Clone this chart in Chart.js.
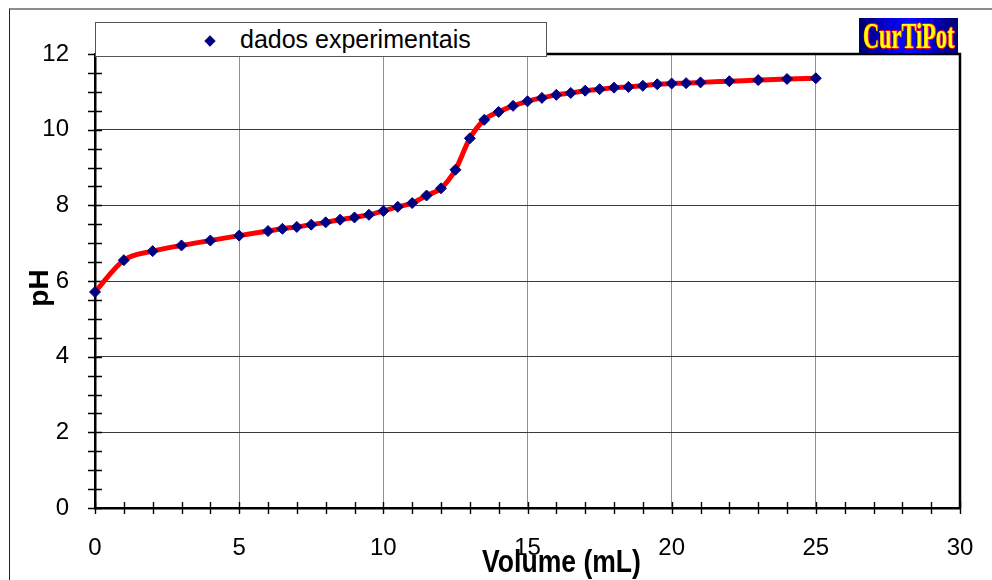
<!DOCTYPE html>
<html>
<head>
<meta charset="utf-8">
<title>Curva de titulação</title>
<script src="https://cdn.jsdelivr.net/npm/chart.js@4.4.0/dist/chart.umd.min.js"></script>
<style>
  body { margin: 0; background: #fff; }
  #wrap { position: relative; width: 992px; height: 580px; overflow: hidden; }
  #frame {
    position: absolute; left: 9px; top: 8px; right: -2px; bottom: -2px;
    border-top: 2px solid #8c8c8c; border-left: 1px solid #222;
  }
  canvas { position: absolute; left: 0; top: 0; }
  #legend {
    position: absolute; left: 95px; top: 22px; width: 452px; height: 35px;
    box-sizing: border-box; background: #fff; border: 1px solid #555;
    font-family: Arial, "Liberation Sans", sans-serif;
  }
  #legend .mk {
    position: absolute; left: 110px; top: 14px; width: 8px; height: 8px;
    background: #000080; transform: rotate(45deg);
  }
  #legend .txt {
    position: absolute; left: 144px; top: 0; line-height: 33px; font-size: 25px; color: #000;
  }
  #logo {
    position: absolute; left: 859px; top: 18px; width: 99px; height: 35px;
    background: linear-gradient(to right, #00006a 0%, #0000d8 30%, #0a0aff 50%, #0000d8 70%, #00006a 100%);
    overflow: hidden; text-align: center;
  }
  #logo span {
    display: inline-block; font: bold 36px "Liberation Serif", "Times New Roman", serif;
    line-height: 36px; color: #ffff00; transform: scaleX(0.62); transform-origin: center;
    margin-left: -50px; margin-right: -50px;
    text-shadow: 1px 0 #e01000, -1px 0 #e01000, 0 1px #e01000, 0 -1px #e01000;
  }
</style>
</head>
<body>
<div id="wrap">
  <div id="frame"></div>
  <canvas id="chart" width="992" height="580"></canvas>
  <div id="legend"><div class="mk"></div><span class="txt">dados experimentais</span></div>
  <div id="logo"><span>CurTiPot</span></div>
</div>
<script>
// Titration data
const volume = [0, 1, 2, 3, 4, 5, 6, 6.5, 7, 7.5, 8, 8.5, 9, 9.5, 10, 10.5, 11, 11.5, 12, 12.5,
                13, 13.5, 14, 14.5, 15, 15.5, 16, 16.5, 17, 17.5, 18, 18.5, 19, 19.5, 20, 20.5,
                21, 22, 23, 24, 25];
const pH = [5.71, 6.55, 6.79, 6.94, 7.07, 7.20, 7.32, 7.38, 7.43, 7.49, 7.55, 7.62, 7.68, 7.75, 7.85, 7.96,
            8.06, 8.26, 8.45, 8.94, 9.77, 10.26, 10.47, 10.63, 10.75, 10.84, 10.92, 10.97, 11.03, 11.07,
            11.11, 11.13, 11.16, 11.20, 11.22, 11.23, 11.25, 11.28, 11.31, 11.34, 11.36];

const xRange = [0, 30];
const yRange = [0, 12];
const xMajorStep = 5;
const yMajorStep = 2;
const xMinorStep = 1;
const yMinorStep = 0.5;
const xTitle = 'Volume (mL)';
const yTitle = 'pH';

const fontFamily = 'Arial, "Liberation Sans", sans-serif';
const points = volume.map((v, i) => ({ x: v, y: pH[i] }));

// small tick marks crossing both axes + box round the plot area
const axisTicks = {
    id: 'axisTicks',
    beforeDatasetsDraw(chart) {
        const { ctx, chartArea, scales: { x, y } } = chart;
        ctx.save();
        ctx.strokeStyle = '#000';
        ctx.lineWidth = 1.4;
        ctx.beginPath();
        for (let v = xRange[0]; v <= xRange[1]; v += xMinorStep) {
            const px = Math.round(x.getPixelForValue(v)) + 0.5;
            ctx.moveTo(px, chartArea.bottom - 6);
            ctx.lineTo(px, chartArea.bottom + 6);
        }
        for (let v = yRange[0]; v <= yRange[1]; v += yMinorStep) {
            const py = Math.round(y.getPixelForValue(v)) + 0.5;
            ctx.moveTo(chartArea.left - 7, py);
            ctx.lineTo(chartArea.left + 7, py);
        }
        ctx.stroke();
        ctx.lineWidth = 2.5;
        ctx.beginPath();
        ctx.moveTo(chartArea.left, chartArea.top);
        ctx.lineTo(chartArea.right, chartArea.top);
        ctx.lineTo(chartArea.right, chartArea.bottom);
        ctx.stroke();
        ctx.restore();
    }
};

const axisTitles = {
    id: 'axisTitles',
    afterDraw(chart) {
        const { ctx, chartArea } = chart;
        ctx.save();
        ctx.fillStyle = '#000';
        ctx.textAlign = 'center';
        ctx.textBaseline = 'alphabetic';
        // x title sits a bit right of centre, squeezed like the original
        ctx.save();
        ctx.translate((chartArea.left + chartArea.right) / 2 + 34, chartArea.bottom + 64);
        ctx.scale(0.83, 1);
        ctx.font = 'bold 32px ' + fontFamily;
        ctx.fillText(xTitle, 0, 0);
        ctx.restore();
        ctx.translate(48, (chartArea.top + chartArea.bottom) / 2 + 7);
        ctx.rotate(-Math.PI / 2);
        ctx.font = 'bold 28px ' + fontFamily;
        ctx.fillText(yTitle, 0, 0);
        ctx.restore();
    }
};

new Chart(document.getElementById('chart'), {
    type: 'line',
    data: {
        datasets: [{
            label: 'dados experimentais',
            data: points,
            showLine: false,
            pointStyle: 'rectRot',
            pointRadius: 5.5,
            pointBorderWidth: 1,
            pointBackgroundColor: '#000080',
            pointBorderColor: '#000080',
            clip: false,
            order: 0
        }, {
            label: 'curva',
            data: points,
            borderColor: '#ff0000',
            borderWidth: 5,
            pointRadius: 0,
            cubicInterpolationMode: 'monotone',
            clip: false,
            order: 1
        }]
    },
    options: {
        responsive: false,
        animation: false,
        layout: { padding: { top: 54, right: 32, bottom: 0, left: 0 } },
        plugins: {
            legend: { display: false },
            tooltip: { enabled: false }
        },
        scales: {
            x: {
                type: 'linear',
                min: xRange[0],
                max: xRange[1],
                ticks: { stepSize: xMajorStep, padding: 26, color: '#000', maxRotation: 0,
                         font: { size: 24, family: fontFamily } },
                grid: { color: '#8f8f8f', lineWidth: 1, drawTicks: false },
                border: { display: true, color: '#000', width: 2.5 },
                afterFit(scale) {
                    scale.height = 72;
                    scale.paddingLeft = 0;
                    scale.paddingRight = 0;
                }
            },
            y: {
                type: 'linear',
                min: yRange[0],
                max: yRange[1],
                ticks: { stepSize: yMajorStep, padding: 26, color: '#000',
                         font: { size: 24, family: fontFamily } },
                grid: { color: '#3a3a3a', lineWidth: 1, drawTicks: false },
                border: { display: true, color: '#000', width: 2.5 },
                afterFit(scale) { scale.width = 95; }
            }
        }
    },
    plugins: [axisTicks, axisTitles]
});
</script>
</body>
</html>
